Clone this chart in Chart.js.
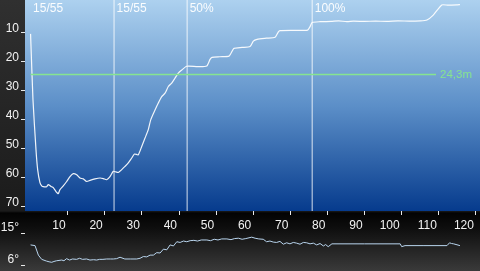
<!DOCTYPE html>
<html>
<head>
<meta charset="utf-8">
<script src="https://cdn.jsdelivr.net/npm/chart.js@4.4.1/dist/chart.umd.min.js"></script>
<style>
  html, body { margin: 0; padding: 0; }
  body {
    width: 480px; height: 271px; overflow: hidden; position: relative;
    background: linear-gradient(to bottom, #303030 0px, #1b1b1b 211px, #030303 213px, #0e0e0e 228px, #3a3a3a 271px);
  }
  #depthChart { position: absolute; left: 0; top: 0; }
  #tempChart { position: absolute; left: 0; top: 211px; }
</style>
</head>
<body>
<canvas id="depthChart" width="480" height="229"></canvas>
<canvas id="tempChart" width="480" height="60"></canvas>
<script>
// dive profile: time (min) and depth (m)
const profileTime = [0, 0.65, 1.46, 1.91, 2.53, 3.0, 3.42, 4.34, 4.77, 5.5, 6.12, 7.04, 7.47, 7.92, 8.81, 9.73,
  10.62, 11.51, 12.43, 13.32, 14.2, 15.12, 16.01, 17.36, 18.71, 19.6, 20.51, 21.4, 22.29, 23.0, 23.64, 24.56,
  25.44, 26.33, 27.25, 28.0, 29.0, 29.95, 30.84, 31.72, 32.37, 33.53, 34.42, 35.34, 36.23, 37.12, 38.03, 38.92,
  39.81, 40.73, 42.07, 45.0, 47.46, 48.36, 48.89, 51.0, 53.48, 54.47, 54.82, 57.0, 59.14, 60.03, 61.02, 63.5,
  65.88, 66.77, 67.22, 71.0, 74.64, 75.31, 75.85, 78.0, 81.0, 83.0, 85.2, 87.0, 90.0, 93.0, 96.0, 99.0,
  102.0, 105.0, 106.8, 108.5, 110.8, 112.5, 114.8, 115.7];
const profileDepth = [10.3, 33.1, 50.3, 57.2, 61.7, 62.8, 63.1, 63.1, 62.4, 63.0, 63.4, 65.1, 65.5, 64.1, 62.8, 61.3,
  59.6, 58.6, 59.0, 60.1, 60.4, 61.3, 60.9, 60.4, 60.1, 60.3, 60.7, 59.6, 57.8, 58.0, 58.2, 57.2,
  56.1, 54.9, 53.2, 51.8, 52.1, 49.2, 46.3, 43.4, 40.0, 36.6, 34.2, 32.0, 30.8, 28.5, 27.3, 25.6,
  23.9, 22.8, 21.5, 21.6, 21.4, 19.1, 18.4, 18.2, 18.0, 15.9, 15.3, 15.0, 14.7, 12.8, 12.2, 11.8,
  11.5, 9.6, 9.2, 9.1, 9.0, 7.8, 6.4, 6.1, 6.0, 5.8, 6.1, 5.9, 6.0, 5.9, 6.0, 5.8,
  5.9, 5.8, 5.5, 3.8, 0.3, 0.4, 0.3, 0.2];

// water temperature (deg C)
const tempTime = [0, 1.2, 2.1, 3.0, 4.3, 5.0, 5.7, 6.3, 7.0, 8.4, 9.0, 9.7, 10.5, 11.3, 12.4, 13.2,
  14.0, 15.1, 16.0, 17.0, 17.8, 18.6, 19.5, 20.5, 21.5, 22.3, 23.2, 24.1, 25.4, 27.0, 28.6, 29.5,
  30.4, 31.3, 32.2, 33.1, 34.0, 34.9, 35.8, 36.7, 37.6, 38.5, 39.4, 40.3, 41.2, 42.1, 43.0, 44.0,
  45.0, 46.0, 47.5, 48.5, 49.5, 50.5, 51.5, 52.9, 54.0, 55.0, 56.0, 57.0, 58.0, 59.6, 60.5, 61.5,
  62.7, 63.6, 64.5, 65.4, 66.3, 67.2, 68.1, 69.0, 69.9, 70.8, 71.7, 72.6, 73.5, 74.4, 75.3, 76.2,
  77.1, 78.0, 78.9, 79.5, 80.2, 81.2, 90.0, 99.6, 100.0, 100.9, 106.0, 112.2, 112.9, 113.4, 114.0, 115.7];
const tempValue = [11.9, 11.7, 9.0, 7.8, 7.3, 7.1, 6.96, 7.2, 7.4, 7.6, 7.4, 8.0, 7.6, 7.9, 7.8, 8.1,
  7.8, 7.9, 7.6, 7.7, 7.6, 7.8, 7.8, 7.9, 7.9, 7.9, 8.0, 8.4, 7.9, 7.9, 7.9, 8.1,
  8.6, 8.5, 9.0, 9.0, 9.7, 9.6, 10.7, 10.5, 11.9, 11.6, 12.8, 12.6, 13.0, 12.8, 13.1, 13.2,
  13.0, 13.3, 13.3, 13.1, 13.5, 13.3, 13.6, 13.6, 13.4, 13.7, 13.8, 13.5, 13.7, 14.1, 13.8, 13.6,
  13.5, 12.8, 13.0, 12.7, 12.6, 12.9, 12.1, 12.5, 12.2, 12.6, 12.4, 12.1, 12.6, 12.5, 12.2, 12.4,
  11.9, 12.3, 11.6, 12.0, 11.4, 12.2, 12.2, 12.2, 11.4, 11.7, 11.7, 11.7, 12.5, 12.3, 12.2, 11.7];

// gas switches and ceiling marker
const gasTimes = [0, 22.5, 42.2, 75.9];
const gasLabels = ['15/55', '15/55', '50%', '100%'];
const ceilingDepth = 24.3;
const ceilingLabel = '24,3m';

// axis ticks
const timeTicks = [10, 20, 30, 40, 50, 60, 70, 80, 90, 100, 110, 120];
const depthTicks = [10, 20, 30, 40, 50, 60, 70];
const tempTicks = [6, 15];

const FONT = 'Liberation Sans, Arial, sans-serif';

// blue water gradient behind the profile
const waterBackground = {
    id: 'waterBackground',
    beforeDraw(chart) {
        const { ctx, chartArea: a } = chart;
        const g = ctx.createLinearGradient(0, a.top, 0, a.bottom);
        g.addColorStop(0, '#add1ef');
        g.addColorStop(0.5, '#5c8fc8');
        g.addColorStop(1, '#063b8d');
        ctx.save();
        ctx.fillStyle = g;
        ctx.fillRect(a.left, a.top, a.right - a.left, a.bottom - a.top);
        ctx.restore();
    }
};

// vertical gas switch lines
const gasLines = {
    id: 'gasLines',
    beforeDatasetsDraw(chart) {
        const { ctx, chartArea: a, scales: { x } } = chart;
        ctx.save();
        ctx.strokeStyle = 'rgba(255,255,255,0.55)';
        ctx.lineWidth = 1.5;
        gasTimes.forEach((t) => {
            if (t <= 0) return;
            const px = x.getPixelForValue(t);
            ctx.beginPath();
            ctx.moveTo(px, a.top);
            ctx.lineTo(px, a.bottom);
            ctx.stroke();
        });
        ctx.restore();
    },
    afterDatasetsDraw(chart) {
        const { ctx, chartArea: a, scales: { x, y } } = chart;
        ctx.save();
        ctx.font = '12px ' + FONT;
        ctx.textBaseline = 'top';
        ctx.fillStyle = 'rgba(255,255,255,0.95)';
        gasTimes.forEach((t, i) => {
            ctx.fillText(gasLabels[i], x.getPixelForValue(t) + 2.5, a.top + 3);
        });

        // ceiling line with label on the right
        const py = y.getPixelForValue(ceilingDepth);
        ctx.font = '11.5px ' + FONT;
        ctx.textBaseline = 'middle';
        ctx.textAlign = 'right';
        const textRight = a.right - 8;
        const textW = ctx.measureText(ceilingLabel).width;
        ctx.fillStyle = '#86e490';
        ctx.fillText(ceilingLabel, textRight, py + 0.5);
        ctx.strokeStyle = '#86e490';
        ctx.lineWidth = 1.5;
        ctx.beginPath();
        ctx.moveTo(x.getPixelForValue(0), py);
        ctx.lineTo(textRight - textW - 4, py);
        ctx.stroke();
        ctx.restore();
    }
};

const tickFont = { family: FONT, size: 12 };

// keep the label overhang from shrinking the plot
const noPadY = (w) => (s) => { s.width = w; s.paddingTop = 0; s.paddingBottom = 0; };
const noPadX = (h) => (s) => { s.height = h; s.paddingLeft = 0; s.paddingRight = 0; };

const depthChart = new Chart(document.getElementById('depthChart'), {
    type: 'line',
    data: {
        datasets: [{
            data: profileTime.map((t, i) => ({ x: t, y: profileDepth[i] })),
            borderColor: 'rgba(255,255,255,0.92)',
            borderWidth: 1.2,
            pointRadius: 0,
            tension: 0.2,
            fill: false
        }]
    },
    options: {
        responsive: false,
        animation: false,
        devicePixelRatio: 1,
        layout: { padding: 0 },
        plugins: { legend: { display: false }, tooltip: { enabled: false } },
        scales: {
            x: {
                type: 'linear',
                min: -1.5,
                max: 121.1,
                afterBuildTicks: (s) => { s.ticks = timeTicks.map(v => ({ value: v })); },
                afterFit: noPadX(18),
                grid: { drawOnChartArea: false, drawTicks: true, tickLength: 4, tickColor: '#e8e8e8' },
                border: { display: false },
                ticks: { color: '#f2f2f2', font: tickFont, align: 'end', labelOffset: -2, padding: 3, maxRotation: 0, autoSkip: false }
            },
            y: {
                reverse: true,
                min: -1.4,
                max: 71.5,
                afterBuildTicks: (s) => { s.ticks = depthTicks.map(v => ({ value: v })); },
                afterFit: noPadY(25),
                grid: { drawOnChartArea: false, drawTicks: true, tickLength: 4, tickColor: '#e8e8e8' },
                border: { display: false },
                ticks: { color: '#f2f2f2', font: tickFont, labelOffset: -4, padding: 2 }
            }
        }
    },
    plugins: [waterBackground, gasLines]
});

const tempChart = new Chart(document.getElementById('tempChart'), {
    type: 'line',
    data: {
        datasets: [{
            data: tempTime.map((t, i) => ({ x: t, y: tempValue[i] })),
            borderColor: '#b9d5ee',
            borderWidth: 1,
            pointRadius: 0,
            tension: 0,
            fill: false
        }]
    },
    options: {
        responsive: false,
        animation: false,
        devicePixelRatio: 1,
        layout: { padding: 0 },
        plugins: { legend: { display: false }, tooltip: { enabled: false } },
        scales: {
            x: { type: 'linear', min: -1.5, max: 121.1, display: false },
            y: {
                min: 4.49,
                max: 21.53,
                afterBuildTicks: (s) => { s.ticks = tempTicks.map(v => ({ value: v })); },
                afterFit: noPadY(25),
                grid: { drawOnChartArea: false, drawTicks: true, tickLength: 4, tickColor: '#e8e8e8' },
                border: { display: false },
                ticks: { color: '#f2f2f2', font: tickFont, labelOffset: -6, padding: 2, callback: (v) => v + '°' }
            }
        }
    }
});
</script>
</body>
</html>
